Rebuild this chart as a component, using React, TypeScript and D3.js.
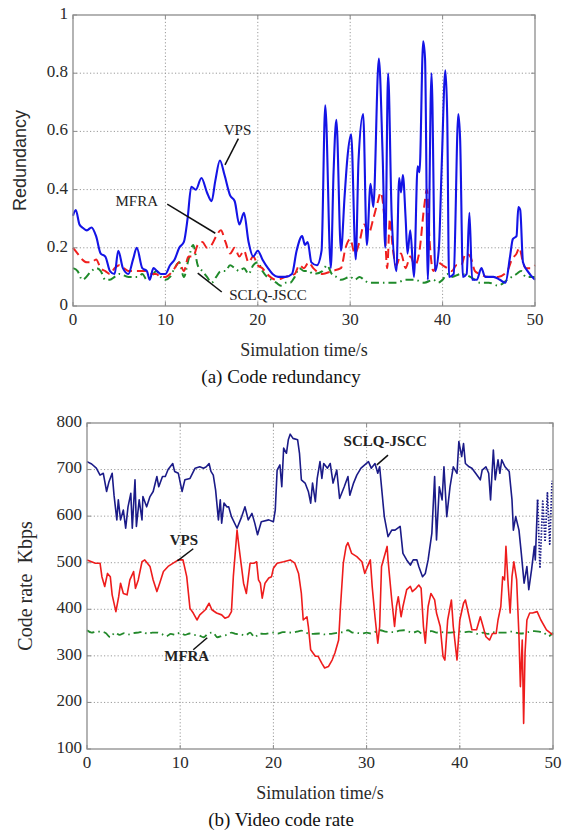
import React, { useEffect, useRef } from 'react';
import * as d3 from 'd3';

type Pt = [number, number];

// shared axis ticks
const timeTicks = [0, 10, 20, 30, 40, 50];
const redundancyTicks = [0, 0.2, 0.4, 0.6, 0.8, 1];
const redundancyLabels = ['0', '0.2', '0.4', '0.6', '0.8', '1'];
const rateTicks = [100, 200, 300, 400, 500, 600, 700, 800];

// (a) code redundancy, [time s, redundancy]
const redVps: Pt[] = [
  [0, 0.31], [0.3, 0.33], [0.7, 0.28], [1, 0.27], [1.5, 0.26], [2, 0.27], [2.5, 0.24], [3, 0.18],
  [3.5, 0.17], [4, 0.12], [4.5, 0.11], [4.9, 0.19], [5.4, 0.13], [6, 0.11], [6.5, 0.16], [6.9, 0.2],
  [7.5, 0.13], [8, 0.12], [8.3, 0.09], [8.7, 0.13], [9.1, 0.12], [9.5, 0.11], [10, 0.11], [10.5, 0.14],
  [11, 0.16], [11.5, 0.2], [12, 0.22], [12.4, 0.3], [12.8, 0.41], [13.3, 0.4], [13.9, 0.44], [14.5, 0.39],
  [15, 0.36], [15.4, 0.43], [15.9, 0.5], [16.4, 0.45], [17, 0.38], [17.5, 0.36], [18, 0.28], [18.5, 0.32],
  [19, 0.22], [19.5, 0.17], [20, 0.19], [20.5, 0.16], [21.1, 0.13], [21.6, 0.11], [22.2, 0.1], [23, 0.1],
  [23.7, 0.11], [24.2, 0.19], [24.8, 0.24], [25.1, 0.21], [25.4, 0.22], [25.8, 0.15], [26.4, 0.14],
  [26.9, 0.19], [27.3, 0.69], [27.9, 0.13], [28.2, 0.46], [28.5, 0.64], [29, 0.19], [29.4, 0.38],
  [29.7, 0.51], [30.1, 0.59], [30.6, 0.16], [30.9, 0.5], [31.4, 0.66], [31.8, 0.21], [32.2, 0.42],
  [32.5, 0.34], [33.1, 0.85], [33.5, 0.53], [33.8, 0.2], [34.1, 0.8], [34.5, 0.3], [35, 0.12],
  [35.3, 0.44], [35.5, 0.39], [35.7, 0.45], [36, 0.3], [36.2, 0.18], [36.5, 0.26], [36.9, 0.1],
  [37.3, 0.48], [37.5, 0.46], [37.9, 0.91], [38.1, 0.85], [38.4, 0.09], [38.8, 0.8], [39.2, 0.12],
  [39.6, 0.2], [39.9, 0.48], [40.3, 0.81], [40.5, 0.65], [40.7, 0.1], [41.2, 0.11], [41.7, 0.66],
  [41.9, 0.57], [42.2, 0.1], [42.6, 0.11], [42.9, 0.32], [43.2, 0.09], [43.7, 0.09], [44.2, 0.13],
  [44.6, 0.1], [45.5, 0.1], [46.2, 0.09], [46.8, 0.08], [47.3, 0.17], [47.6, 0.23], [48, 0.24],
  [48.2, 0.34], [48.4, 0.33], [48.7, 0.15], [49.2, 0.12], [50, 0.09],
];

const redMfra: Pt[] = [
  [0, 0.2], [0.5, 0.18], [1, 0.16], [1.5, 0.15], [2, 0.15], [2.5, 0.16], [3, 0.13], [3.5, 0.12],
  [4, 0.11], [4.5, 0.13], [5, 0.14], [5.5, 0.13], [6, 0.12], [7, 0.12], [8, 0.12], [8.5, 0.11],
  [9, 0.11], [9.5, 0.1], [10, 0.1], [10.5, 0.11], [11, 0.13], [11.5, 0.15], [12, 0.12], [12.5, 0.17],
  [13, 0.17], [13.5, 0.21], [14, 0.22], [14.5, 0.2], [15, 0.21], [15.5, 0.24], [16, 0.26], [16.5, 0.22],
  [17, 0.18], [17.5, 0.2], [18, 0.17], [18.5, 0.19], [19, 0.15], [19.5, 0.17], [20, 0.14], [20.5, 0.13],
  [21, 0.11], [22, 0.09], [23, 0.1], [24, 0.11], [24.5, 0.14], [25, 0.13], [25.5, 0.15], [26, 0.13],
  [27, 0.11], [28, 0.12], [29, 0.13], [29.5, 0.2], [30, 0.23], [30.5, 0.18], [31, 0.22], [31.5, 0.28],
  [32, 0.25], [32.5, 0.3], [33, 0.36], [33.3, 0.39], [33.7, 0.3], [34, 0.13], [34.3, 0.3], [34.6, 0.2],
  [35, 0.14], [35.5, 0.18], [36, 0.13], [36.5, 0.17], [37, 0.14], [37.5, 0.19], [38, 0.34], [38.3, 0.4],
  [38.6, 0.22], [39, 0.12], [39.5, 0.15], [40, 0.14], [40.5, 0.13], [41, 0.12], [41.5, 0.14], [42, 0.14],
  [42.5, 0.18], [43, 0.17], [43.5, 0.12], [44, 0.11], [45, 0.1], [46, 0.1], [47, 0.12], [47.5, 0.16],
  [48, 0.18], [48.3, 0.2], [48.7, 0.15], [49, 0.13], [49.5, 0.13], [50, 0.14],
];

const redSclq: Pt[] = [
  [0, 0.13], [0.5, 0.12], [1, 0.09], [2, 0.12], [2.5, 0.13], [3, 0.12], [3.5, 0.09], [4, 0.09],
  [4.5, 0.1], [5, 0.11], [6, 0.1], [7, 0.1], [7.5, 0.11], [8, 0.09], [8.5, 0.1], [9, 0.12], [9.5, 0.1],
  [10, 0.09], [10.5, 0.1], [11, 0.13], [11.5, 0.15], [12, 0.1], [12.5, 0.16], [13, 0.21], [13.5, 0.14],
  [14, 0.12], [14.5, 0.1], [15, 0.08], [15.5, 0.1], [16, 0.12], [16.5, 0.12], [17, 0.14], [17.5, 0.13],
  [18, 0.12], [18.5, 0.13], [19, 0.11], [19.5, 0.14], [20, 0.15], [20.5, 0.12], [21, 0.1], [21.5, 0.09],
  [22, 0.08], [22.5, 0.07], [23, 0.08], [23.5, 0.08], [24, 0.1], [24.5, 0.13], [25, 0.12], [25.5, 0.12],
  [26, 0.11], [27, 0.12], [27.5, 0.14], [28, 0.11], [28.5, 0.1], [29, 0.09], [30, 0.1], [30.5, 0.09],
  [31, 0.1], [31.5, 0.09], [32, 0.08], [33, 0.08], [34, 0.08], [35, 0.08], [36, 0.09], [37, 0.09],
  [38, 0.08], [39, 0.09], [39.5, 0.08], [40, 0.09], [40.5, 0.11], [41, 0.1], [42, 0.11], [43, 0.1],
  [43.5, 0.09], [44, 0.08], [45, 0.08], [46, 0.07], [47, 0.09], [47.5, 0.1], [48, 0.11], [48.5, 0.12],
  [49, 0.1], [49.5, 0.1], [50, 0.1],
];

// (b) video code rate, [time s, Kbps]
const rateSclq: Pt[] = [
  [0, 717], [0.5, 712], [1, 703], [1.4, 688], [1.75, 692], [2.1, 653], [2.36, 674], [2.7, 692],
  [2.9, 645], [3.2, 592], [3.36, 635], [3.6, 592], [3.9, 613], [4.15, 574], [4.4, 620], [4.7, 649],
  [4.86, 574], [5.15, 678], [5.3, 578], [5.6, 635], [5.9, 592], [6.0, 642], [6.4, 620], [6.76, 642],
  [7.1, 653], [7.5, 685], [7.7, 663], [8.1, 685], [8.4, 685], [8.7, 700], [9.2, 713], [9.4, 696],
  [9.8, 692], [10.2, 653], [10.5, 678], [11.05, 681], [11.6, 703], [12.1, 706], [12.5, 703],
  [12.8, 706], [13.1, 713], [13.3, 696], [13.55, 688], [13.8, 656], [14.1, 592], [14.3, 635],
  [14.45, 585], [14.7, 628], [15.0, 620], [15.2, 620], [15.5, 599], [16.1, 574], [16.6, 599],
  [16.95, 620], [17.3, 592], [17.7, 606], [18.0, 585], [18.3, 560], [18.7, 588], [19.5, 592],
  [20.0, 588], [20.2, 613], [20.4, 699], [20.7, 710], [20.9, 663], [21.1, 746], [21.4, 735],
  [21.6, 764], [21.8, 776], [22.1, 767], [22.6, 764], [22.8, 735], [23.0, 678], [23.4, 671],
  [23.75, 653], [24.0, 628], [24.2, 671], [24.5, 631], [24.7, 681], [25.0, 717], [25.2, 681],
  [25.4, 713], [25.8, 703], [26.1, 713], [26.4, 671], [26.8, 699], [27.1, 638], [27.6, 663],
  [28.0, 685], [28.2, 645], [28.6, 671], [28.95, 688], [29.4, 703], [29.8, 710], [30.2, 717],
  [30.5, 703], [30.9, 713], [31.2, 692], [31.4, 706], [31.6, 663], [31.9, 599], [32.3, 556],
  [32.7, 570], [33.05, 570], [33.6, 578], [33.9, 520], [34.3, 506], [34.7, 495], [35.0, 506],
  [35.4, 506], [35.6, 492], [36.0, 470], [36.3, 477], [36.6, 506], [37.0, 563], [37.3, 685],
  [37.5, 549], [37.8, 663], [38.1, 635], [38.3, 706], [38.6, 599], [38.95, 663], [39.3, 706],
  [39.7, 692], [39.9, 760], [40.2, 728], [40.4, 756], [40.6, 713], [41.0, 706], [41.3, 703],
  [41.7, 692], [42.2, 678], [42.4, 699], [42.8, 706], [43.1, 692], [43.3, 635], [43.6, 742],
  [43.8, 678], [44.1, 721], [44.3, 692], [44.5, 721], [44.85, 706], [45.3, 696], [45.6, 635],
  [45.75, 570], [46.0, 599], [46.35, 570], [46.6, 520], [46.9, 456], [47.2, 492], [47.4, 442],
  [47.7, 485], [48.0, 535], [48.1, 506], [48.35, 635],
];

// dotted tail of the SCLQ-JSCC curve
const rateSclqTail: Pt[] = [
  [48.35, 635], [48.6, 488], [48.9, 632], [49.15, 545], [49.4, 650], [49.65, 540], [49.9, 676],
];

const rateVps: Pt[] = [
  [0, 506], [0.9, 499], [1.4, 499], [1.6, 470], [1.9, 449], [2.2, 477], [2.5, 470], [2.7, 431],
  [3.1, 395], [3.4, 427], [3.6, 456], [3.9, 434], [4.3, 431], [4.6, 463], [5.0, 481], [5.2, 445],
  [5.5, 463], [5.9, 502], [6.2, 506], [6.76, 492], [7.1, 463], [7.5, 438], [7.8, 456], [8.2, 481],
  [8.7, 492], [9.25, 499], [9.8, 506], [10.3, 506], [10.7, 470], [11.05, 402], [11.4, 392],
  [11.8, 377], [12.1, 388], [12.7, 399], [13.1, 413], [13.4, 399], [13.9, 392], [14.45, 388],
  [14.8, 381], [15.2, 384], [15.5, 395], [15.7, 470], [16.1, 570], [16.3, 535], [16.8, 456],
  [17.1, 434], [17.5, 499], [17.9, 499], [18.2, 502], [18.4, 463], [18.6, 456], [18.8, 424],
  [19.1, 456], [19.5, 467], [19.8, 470], [20.0, 488], [20.4, 499], [21.1, 502], [21.8, 506],
  [22.3, 499], [22.7, 477], [23.0, 434], [23.2, 377], [23.6, 384], [23.75, 363], [24.0, 313],
  [24.5, 299], [24.8, 299], [25.2, 284], [25.5, 274], [25.9, 277], [26.3, 291], [26.6, 306],
  [27.0, 334], [27.2, 406], [27.5, 499], [27.8, 535], [28.0, 543], [28.4, 520], [28.95, 513],
  [29.5, 502], [29.8, 477], [30.1, 492], [30.4, 506], [30.6, 449], [30.9, 384], [31.2, 327],
  [31.4, 363], [31.6, 492], [32.2, 535], [32.3, 506], [32.7, 420], [33.0, 363], [33.2, 406],
  [33.4, 427], [33.7, 384], [33.9, 406], [34.3, 442], [34.7, 449], [34.9, 438], [35.3, 445],
  [35.6, 452], [35.85, 445], [36.1, 363], [36.3, 327], [36.6, 406], [36.9, 434], [37.3, 420],
  [37.5, 392], [37.9, 363], [38.2, 299], [38.4, 291], [38.7, 377], [39.1, 420], [39.3, 363],
  [39.7, 291], [40.0, 377], [40.4, 413], [40.6, 420], [41.0, 384], [41.3, 356], [41.8, 356],
  [42.2, 384], [42.4, 370], [42.8, 341], [43.2, 334], [43.5, 348], [43.9, 348], [44.1, 377],
  [44.4, 406], [44.6, 470], [44.8, 463], [44.95, 535], [45.2, 449], [45.4, 392], [45.6, 470],
  [45.8, 502], [46.1, 463], [46.35, 341], [46.5, 234], [46.7, 334], [46.85, 155], [47.0, 306],
  [47.2, 377], [47.5, 392], [47.8, 392], [48.3, 395], [48.7, 377], [49.3, 356], [49.8, 348],
  [50, 345],
];

const rateMfra: Pt[] = [
  [0, 355], [0.5, 350], [1, 352], [1.5, 352], [2, 349], [2.5, 340], [3, 350], [3.5, 345], [4, 349],
  [4.5, 346], [5, 349], [5.5, 350], [6, 352], [6.5, 347], [7, 350], [7.5, 350], [8, 347], [8.5, 342],
  [9, 347], [9.5, 345], [10, 350], [10.5, 345], [11, 348], [11.5, 345], [12, 344], [12.5, 340],
  [13, 348], [13.5, 350], [14, 340], [14.5, 343], [15, 345], [15.5, 350], [16, 347], [16.5, 346],
  [17, 344], [17.5, 350], [18, 340], [18.5, 348], [19, 347], [20, 350], [20.5, 348], [21, 351],
  [22, 350], [22.5, 352], [23, 354], [23.5, 350], [24, 347], [25, 348], [25.5, 346], [26, 347],
  [27, 350], [27.5, 351], [28, 355], [28.5, 350], [29, 349], [29.5, 348], [30, 350], [30.5, 348],
  [31, 352], [31.5, 355], [32, 352], [33, 351], [33.5, 354], [34, 355], [34.5, 352], [35, 350],
  [35.5, 353], [36, 347], [36.5, 352], [37, 353], [37.5, 350], [38, 351], [38.5, 350], [39, 350],
  [40, 352], [40.5, 351], [41, 352], [41.5, 350], [42, 347], [42.5, 350], [43, 347], [43.5, 351],
  [44, 350], [45, 350], [45.5, 352], [46, 350], [46.5, 348], [47, 349], [47.5, 352], [48, 353],
  [48.5, 352], [49, 350], [49.5, 342], [50, 350],
];

interface SeriesDef {
  data: Pt[];
  color: string;
  width: number;
  dash?: string;
  smooth?: boolean;
}

interface NoteDef {
  text: string;
  at: Pt;       // label centre, data units
  from: Pt;     // leader line start
  to: Pt;       // leader line end
  bold?: boolean;
}

interface PanelDef {
  top: number;
  left: number;
  right: number;
  bottom: number;
  yDomain: [number, number];
  yTicks: number[];
  yLabels: string[];
  yTitle: string;
  yTitleFont: string;
  yTitleSize: number;
  yTitleX: number;
  caption: string;
  series: SeriesDef[];
  notes: NoteDef[];
}

const serif = '"Liberation Serif", "Times New Roman", serif';
const sans = '"Liberation Sans", Arial, sans-serif';

const panels: PanelDef[] = [
  {
    top: 15, left: 73, right: 535, bottom: 306,
    yDomain: [0, 1], yTicks: redundancyTicks, yLabels: redundancyLabels,
    yTitle: 'Redundancy', yTitleFont: sans, yTitleSize: 18, yTitleX: 21,
    caption: '(a) Code redundancy',
    series: [
      { data: redSclq, color: '#1f8a2a', width: 2, dash: '8,4,1.5,4', smooth: true },
      { data: redMfra, color: '#f0201e', width: 2, dash: '9,5', smooth: true },
      { data: redVps, color: '#1414e6', width: 2.1, smooth: true },
    ],
    notes: [
      { text: 'VPS', at: [17.8, 0.6], from: [17.9, 0.575], to: [16.45, 0.485] },
      { text: 'MFRA', at: [6.9, 0.357], from: [10.2, 0.35], to: [15.4, 0.25] },
      { text: 'SCLQ-JSCC', at: [21.1, 0.031], from: [13.5, 0.113], to: [16.1, 0.048] },
    ],
  },
  {
    top: 423, left: 87, right: 553, bottom: 749,
    yDomain: [100, 800], yTicks: rateTicks, yLabels: rateTicks.map(String),
    yTitle: 'Code rate\u00a0\u00a0Kbps', yTitleFont: serif, yTitleSize: 20, yTitleX: 27,
    caption: '(b) Video code rate',
    series: [
      { data: rateMfra, color: '#23892b', width: 1.8, dash: '8,4,1.5,4', smooth: true },
      { data: rateVps, color: '#ee1c1c', width: 1.6 },
      { data: rateSclq, color: '#1b1b88', width: 1.6 },
      { data: rateSclqTail, color: '#1b1b88', width: 1.8, dash: '1.5,1.5' },
    ],
    notes: [
      { text: 'SCLQ-JSCC', at: [32.0, 757], from: [32.3, 731], to: [31.1, 710], bold: true },
      { text: 'VPS', at: [10.4, 545], from: [11.4, 530], to: [9.7, 504], bold: true },
      { text: 'MFRA', at: [10.7, 296], from: [11.4, 313], to: [12.9, 339], bold: true },
    ],
  },
];

function drawPanel(g: d3.Selection<SVGGElement, unknown, null, undefined>, p: PanelDef) {
  const x = d3.scaleLinear().domain([0, 50]).range([p.left, p.right]);
  const y = d3.scaleLinear().domain(p.yDomain).range([p.bottom, p.top]);

  // dotted grid
  const grid = g.append('g').attr('stroke', '#9a9a9a').attr('stroke-width', 1).attr('stroke-dasharray', '1.2,2.2');
  timeTicks.slice(1, -1).forEach(t => {
    grid.append('line').attr('x1', x(t)).attr('x2', x(t)).attr('y1', p.top).attr('y2', p.bottom);
  });
  p.yTicks.slice(1, -1).forEach(v => {
    grid.append('line').attr('x1', p.left).attr('x2', p.right).attr('y1', y(v)).attr('y2', y(v));
  });

  // curves
  p.series.forEach(s => {
    const line = d3.line<Pt>()
      .x(d => x(d[0]))
      .y(d => y(d[1]))
      .curve(s.smooth ? d3.curveMonotoneX : d3.curveLinear);
    g.append('path')
      .datum(s.data)
      .attr('fill', 'none')
      .attr('stroke', s.color)
      .attr('stroke-width', s.width)
      .attr('stroke-linejoin', 'round')
      .attr('stroke-dasharray', s.dash || null)
      .attr('d', line);
  });

  // frame + inward ticks
  g.append('rect')
    .attr('x', p.left).attr('y', p.top)
    .attr('width', p.right - p.left).attr('height', p.bottom - p.top)
    .attr('fill', 'none').attr('stroke', '#8c8c8c').attr('stroke-width', 1.3);
  const ticks = g.append('g').attr('stroke', '#8c8c8c').attr('stroke-width', 1);
  timeTicks.forEach(t => {
    ticks.append('line').attr('x1', x(t)).attr('x2', x(t)).attr('y1', p.bottom).attr('y2', p.bottom - 4);
    ticks.append('line').attr('x1', x(t)).attr('x2', x(t)).attr('y1', p.top).attr('y2', p.top + 4);
  });
  p.yTicks.forEach(v => {
    ticks.append('line').attr('x1', p.left).attr('x2', p.left + 4).attr('y1', y(v)).attr('y2', y(v));
    ticks.append('line').attr('x1', p.right).attr('x2', p.right - 4).attr('y1', y(v)).attr('y2', y(v));
  });

  // tick labels
  timeTicks.forEach(t => {
    g.append('text')
      .attr('x', x(t)).attr('y', p.bottom + 15)
      .attr('text-anchor', 'middle').attr('dominant-baseline', 'middle')
      .attr('font-family', serif).attr('font-size', 17).attr('fill', '#2a2a2a')
      .text(String(t));
  });
  p.yTicks.forEach((v, i) => {
    g.append('text')
      .attr('x', p.left - 5).attr('y', y(v))
      .attr('text-anchor', 'end').attr('dominant-baseline', 'middle')
      .attr('font-family', serif).attr('font-size', 17).attr('fill', '#2a2a2a')
      .text(p.yLabels[i]);
  });

  // titles
  const cx = (p.left + p.right) / 2;
  g.append('text')
    .attr('x', cx).attr('y', p.bottom + 46)
    .attr('text-anchor', 'middle').attr('dominant-baseline', 'middle')
    .attr('font-family', serif).attr('font-size', 18).attr('fill', '#2a2a2a')
    .text('Simulation time/s');
  g.append('text')
    .attr('x', 281).attr('y', p.bottom + 73)
    .attr('text-anchor', 'middle').attr('dominant-baseline', 'middle')
    .attr('font-family', serif).attr('font-size', 19).attr('fill', '#111')
    .text(p.caption);
  const cy = (p.top + p.bottom) / 2;
  g.append('text')
    .attr('transform', `translate(${p.yTitleX},${cy}) rotate(-90)`)
    .attr('text-anchor', 'middle').attr('dominant-baseline', 'middle')
    .attr('font-family', p.yTitleFont).attr('font-size', p.yTitleSize).attr('fill', '#2a2a2a')
    .text(p.yTitle);

  // annotations
  p.notes.forEach(n => {
    g.append('line')
      .attr('x1', x(n.from[0])).attr('y1', y(n.from[1]))
      .attr('x2', x(n.to[0])).attr('y2', y(n.to[1]))
      .attr('stroke', '#111').attr('stroke-width', 1.5);
    g.append('text')
      .attr('x', x(n.at[0])).attr('y', y(n.at[1]))
      .attr('text-anchor', 'middle').attr('dominant-baseline', 'middle')
      .attr('font-family', serif).attr('font-size', 15)
      .attr('font-weight', n.bold ? 'bold' : 'normal')
      .attr('fill', '#222')
      .text(n.text);
  });
}

export default function App() {
  const svgRef = useRef<SVGSVGElement | null>(null);

  useEffect(() => {
    if (!svgRef.current) return;
    const svg = d3.select(svgRef.current);
    svg.selectAll('*').remove();
    panels.forEach(p => drawPanel(svg.append('g'), p));
  }, []);

  return (
    <svg
      ref={svgRef}
      width={562}
      height={839}
      style={{ position: 'absolute', left: 0, top: 0, background: '#fff' }}
    />
  );
}
